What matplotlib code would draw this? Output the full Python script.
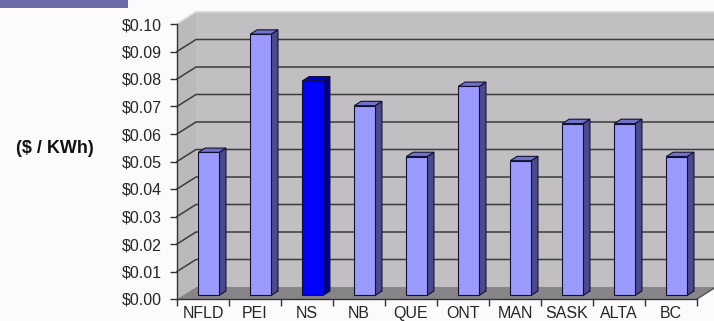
import matplotlib
matplotlib.use("Agg")
import matplotlib.pyplot as plt
from matplotlib.patches import Polygon, Rectangle
from matplotlib.lines import Line2D
from matplotlib.ticker import FixedLocator, FuncFormatter

# Average electricity rate by province
provinces = ["NFLD", "PEI", "NS", "NB", "QUE", "ONT", "MAN", "SASK", "ALTA", "BC"]
rates = [0.052, 0.095, 0.078, 0.069, 0.0505, 0.076, 0.049, 0.0625, 0.0625, 0.0505]
highlight = "NS"
y_ticks = [i / 100 for i in range(11)]
y_label = "($ / KWh)"

plt.rcParams["font.family"] = ["Liberation Sans", "DejaVu Sans"]

BG = "#FDFAFD"
WALL = "#C2BFC2"
SIDE_WALL = "#BBB9BB"
FLOOR = "#878587"
GRID = "#3C3C3C"
TEXT = "#262626"

fig = plt.figure(figsize=(7.14, 3.21), dpi=100, facecolor=BG)
ax = fig.add_axes([177 / 714, 22 / 321, 520 / 714, 275 / 321])
ax.set_xlim(-0.5, len(provinces) - 0.5)
ax.set_ylim(0, 0.10)
ax.patch.set_visible(False)

# depth of the 3-D box, expressed in screen pixels and converted to data units
DEPTH_PX = (19, 12)
p0 = ax.transData.transform((0, 0))
p1 = ax.transData.transform((1, 0.01))
DX = DEPTH_PX[0] / (p1[0] - p0[0])
DY = DEPTH_PX[1] / ((p1[1] - p0[1]) / 0.01)


def at(x, y, d):
    return (x + d * DX, y + d * DY)


x_lo, x_hi = -0.5, len(provinces) - 0.5
y_top = y_ticks[-1]

# walls and floor
ax.add_patch(Polygon([at(x_lo, 0, 1), at(x_hi, 0, 1), at(x_hi, y_top, 1), at(x_lo, y_top, 1)],
                     closed=True, fc=WALL, ec="none", clip_on=False, zorder=0.5))
ax.add_patch(Polygon([at(x_lo, 0, 0), at(x_lo, y_top, 0), at(x_lo, y_top, 1), at(x_lo, 0, 1)],
                     closed=True, fc=SIDE_WALL, ec="none", clip_on=False, zorder=0.6))
ax.add_patch(Polygon([at(x_lo, 0, 0), at(x_hi, 0, 0), at(x_hi, 0, 1), at(x_lo, 0, 1)],
                     closed=True, fc=FLOOR, ec="none", clip_on=False, zorder=0.7))

# light edges along the top of the box
xs, ys = zip(at(x_lo, y_top, 0), at(x_lo, y_top, 1), at(x_hi, y_top, 1))
ax.add_line(Line2D(xs, ys, color="#D8D6D8", lw=1.2, clip_on=False, zorder=0.9))

# gridlines running across the side wall and the back wall
for t in y_ticks[1:-1]:
    xs, ys = zip(at(x_lo, t, 0), at(x_lo, t, 1), at(x_hi, t, 1))
    ax.add_line(Line2D(xs, ys, color=GRID, lw=1.1, clip_on=False, zorder=0.9))

# right edge of the floor
xs, ys = zip(at(x_hi, 0, 0), at(x_hi, 0, 1))
ax.add_line(Line2D(xs, ys, color="#505050", lw=1.0, clip_on=False, zorder=0.9))

# 3-D bars
W = 0.40
F, B = 0.30, 0.66
for i, (name, v) in enumerate(zip(provinces, rates)):
    if name == highlight:
        front, side, top = "#0000FF", "#000080", "#0000C8"
    else:
        front, side, top = "#9A9AFF", "#4B4B8C", "#7272CC"
    l, r = i - W / 2, i + W / 2
    z = 2 + i * 0.01
    ax.add_patch(Polygon([at(r, 0, F), at(r, v, F), at(r, v, B), at(r, 0, B)],
                         closed=True, fc=side, ec="#111133", lw=0.8, clip_on=False, zorder=z))
    ax.add_patch(Polygon([at(l, v, F), at(r, v, F), at(r, v, B), at(l, v, B)],
                         closed=True, fc=top, ec="#111133", lw=0.8, clip_on=False, zorder=z))
    ax.add_patch(Polygon([at(l, 0, F), at(r, 0, F), at(r, v, F), at(l, v, F)],
                         closed=True, fc=front, ec="#111133", lw=0.8, clip_on=False, zorder=z + 0.005))

# axes: front edge of the box
for s in ("top", "right"):
    ax.spines[s].set_visible(False)
for s in ("left", "bottom"):
    ax.spines[s].set_color("#333333")
    ax.spines[s].set_linewidth(1.0)

ax.yaxis.set_major_locator(FixedLocator(y_ticks))
ax.yaxis.set_major_formatter(FuncFormatter(lambda v, _: f"${v:.2f}"))
ax.tick_params(axis="y", direction="out", length=5, width=1, color="#333333",
               pad=6, labelsize=11.5, labelcolor=TEXT)

ax.set_xticks(range(len(provinces)))
ax.set_xticklabels(provinces)
ax.set_xticks([k - 0.5 for k in range(len(provinces) + 1)], minor=True)
ax.tick_params(axis="x", which="major", length=0, pad=5, labelsize=11.5, labelcolor=TEXT)
ax.tick_params(axis="x", which="minor", direction="out", length=5, width=1, color="#333333")

fig.text(55 / 714, 1 - 149 / 321, y_label, ha="center", va="center",
         fontsize=13, fontweight="bold", color="#111111")

# title strip in the corner
fig.patches.append(Rectangle((0, 1 - 8 / 321), 128 / 714, 8 / 321, transform=fig.transFigure,
                             fc="#6C6CAA", ec="none"))

fig.savefig("out.png", dpi=100, facecolor=BG)
